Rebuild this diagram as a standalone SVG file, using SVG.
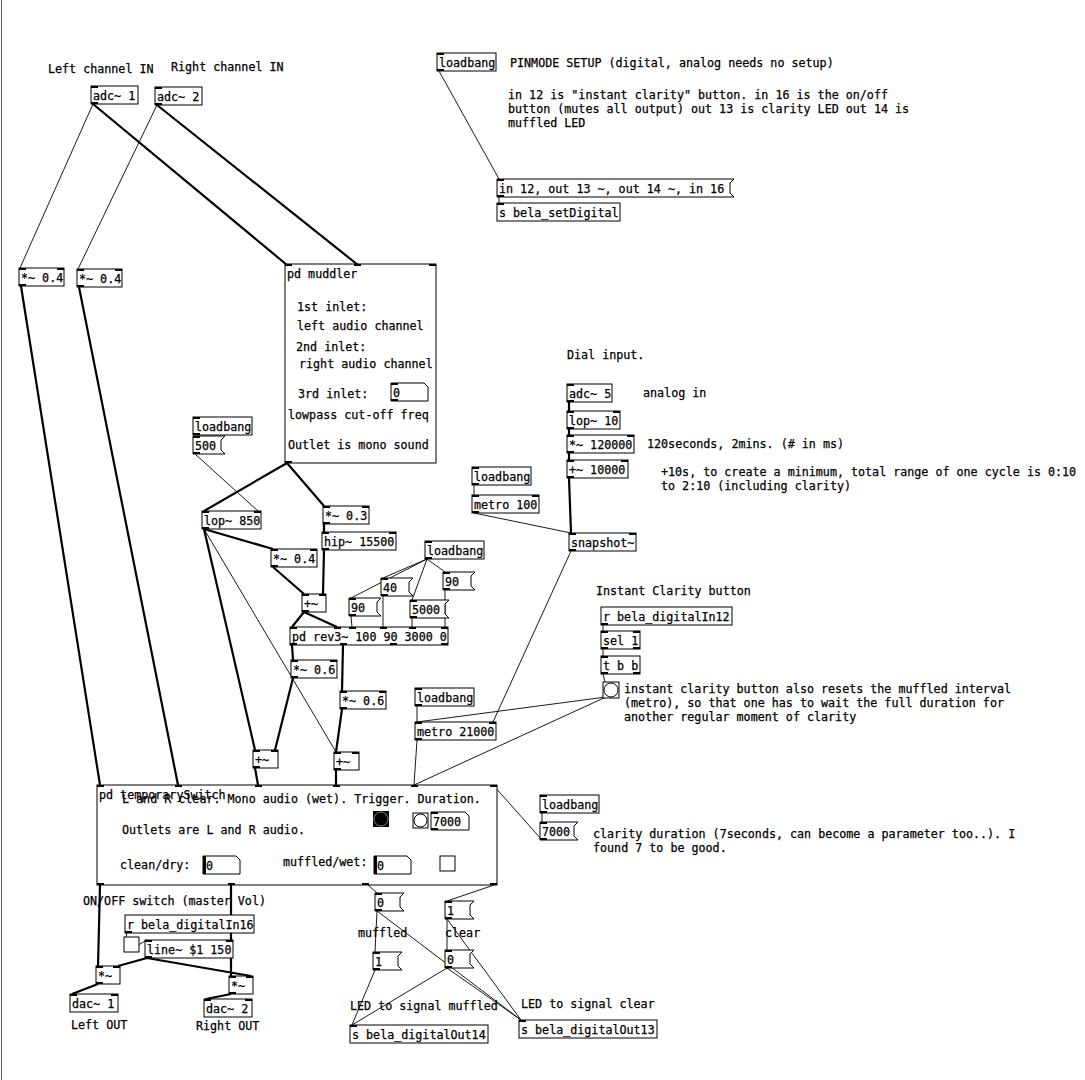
<svg xmlns="http://www.w3.org/2000/svg" width="1085" height="1080" viewBox="0 0 1085 1080">
<style>
text{font-family:"DejaVu Sans Mono","Liberation Mono",monospace;font-size:11.7px;fill:#000;stroke:#000;stroke-width:0.25}
.b{fill:#fff;stroke:#000;stroke-width:1}
.io{fill:#000}
.s{stroke:#000;stroke-width:2.2;fill:none}
.c{stroke:#000;stroke-width:0.9;fill:none}
</style>
<rect width="1085" height="1080" fill="#fff"/>
<line x1="1.5" y1="0" x2="1.5" y2="1080" stroke="#555" stroke-width="1"/>
<g id="connectors">
<path class="s" d="M93 104L287 265M157 105L358 265M21 286L100 785M79 287L178 785M287 463L204 511M287 463L324 506M204 529L273 549M204 529L255 750M324 524L324 532M324 550L323 594M273 567L304 594M304 612L292 627M304 612L337 627M292 645L293 660M343 645L342 691M293 678L275 750M342 709L336 752M255 768L258 785M336 770L336 785M569 402L569 411M569 429L569 435M569 453L569 460M569 478L571 533M100 885L98 966M231 885L231 976M147 958L118 966M147 958L251 976M98 984L72 994M231 994L206 999"/>
<path class="c" d="M93 104L20 268M157 105L78 269M195 454L258 511M204 529L336 752M427 559L445 572M427 559L383 578M427 559L351 598M427 559L412 600M351 616L352 627M383 596L383 627M412 618L412 627M445 590L445 627M417 706L417 722M417 740L414 785M571 551L493 722M606 697L417 722M606 697L414 785M603 625L603 631M603 649L603 656M603 674L605 682M474 485L474 495M474 513L571 533M494 786L542 840M542 813L542 822M439 71L499 179M499 197L499 203M368 885L377 893M494 885L447 901M377 911L375 952M377 911L521 1020M447 919L447 950M447 919L521 1020M375 970L352 1025M447 968L352 1025M447 968L521 1020M127 933L126 937M126 952L147 940"/>
</g>
<g id="comments">
<text x="48" y="73">Left channel IN</text>
<text x="171" y="71">Right channel IN</text>
<text x="510" y="67">PINMODE SETUP (digital, analog needs no setup)</text>
<text x="508" y="99">in 12 is "instant clarity" button. in 16 is the on/off</text>
<text x="508" y="113">button (mutes all output) out 13 is clarity LED out 14 is</text>
<text x="508" y="127">muffled LED</text>
<text x="567" y="359">Dial input.</text>
<text x="643" y="397">analog in</text>
<text x="647" y="448">120seconds, 2mins. (# in ms)</text>
<text x="661" y="476">+10s, to create a minimum, total range of one cycle is 0:10</text>
<text x="661" y="490">to 2:10 (including clarity)</text>
<text x="596" y="595">Instant Clarity button</text>
<text x="624" y="693">instant clarity button also resets the muffled interval</text>
<text x="624" y="707">(metro), so that one has to wait the full duration for</text>
<text x="624" y="721">another regular moment of clarity</text>
<text x="593" y="838">clarity duration (7seconds, can become a parameter too..). I</text>
<text x="593" y="852">found 7 to be good.</text>
<text x="83" y="905">ON/OFF switch (master Vol)</text>
<text x="358" y="937">muffled</text>
<text x="445" y="937">clear</text>
<text x="350" y="1010">LED to signal muffled</text>
<text x="521" y="1008">LED to signal clear</text>
<text x="71" y="1029">Left OUT</text>
<text x="196" y="1030">Right OUT</text>
</g>
<g id="adc1"><rect class="b" x="91" y="86" width="47" height="18"/><rect class="io" x="91" y="86" width="7" height="2"/><rect class="io" x="91" y="102" width="7" height="2"/><text x="93" y="100">adc~ 1</text></g>
<g id="adc2"><rect class="b" x="155" y="87" width="47" height="18"/><rect class="io" x="155" y="87" width="7" height="2"/><rect class="io" x="155" y="103" width="7" height="2"/><text x="157" y="101">adc~ 2</text></g>
<g id="loadbang1"><rect class="b" x="437" y="53" width="59" height="18"/><rect class="io" x="437" y="53" width="7" height="2"/><rect class="io" x="437" y="69" width="7" height="2"/><text x="439" y="67">loadbang</text></g>
<g id="pinmsg"><polygon class="b" points="497,179 734,179 730,183 730,193 734,197 497,197"/><rect class="io" x="497" y="179" width="7" height="2"/><rect class="io" x="497" y="195" width="7" height="2"/><text x="499" y="193">in 12, out 13 ~, out 14 ~, in 16</text></g>
<g id="setdigital"><rect class="b" x="497" y="203" width="123" height="18"/><rect class="io" x="497" y="203" width="7" height="2"/><text x="499" y="217">s bela_setDigital</text></g>
<g id="mul04a"><rect class="b" x="19" y="268" width="45" height="18"/><rect class="io" x="19" y="268" width="7" height="2"/><rect class="io" x="57" y="268" width="7" height="2"/><rect class="io" x="19" y="284" width="7" height="2"/><text x="21" y="282">*~ 0.4</text></g>
<g id="mul04b"><rect class="b" x="77" y="269" width="45" height="18"/><rect class="io" x="77" y="269" width="7" height="2"/><rect class="io" x="115" y="269" width="7" height="2"/><rect class="io" x="77" y="285" width="7" height="2"/><text x="79" y="283">*~ 0.4</text></g>
<g id="muddler"><rect class="b" x="285" y="264" width="151" height="199"/><rect class="io" x="285" y="264" width="7" height="2"/><rect class="io" x="354" y="264" width="7" height="2"/><rect class="io" x="429" y="264" width="7" height="2"/><rect class="io" x="285" y="461" width="7" height="2"/>
<text x="287" y="278">pd muddler</text><text x="297" y="311">1st inlet:</text><text x="297" y="330">left audio channel</text><text x="296" y="351">2nd inlet:</text><text x="299" y="368">right audio channel</text><text x="298" y="398">3rd inlet:</text>
<polygon class="b" points="391,383 424,383 428,387 428,401 391,401"/><rect class="io" x="391" y="383" width="7" height="2"/><rect class="io" x="391" y="399" width="7" height="2"/><text x="393" y="397">0</text>
<text x="288" y="419">lowpass cut-off freq</text><text x="288" y="449">Outlet is mono sound</text></g>
<g id="loadbang2"><rect class="b" x="193" y="417" width="59" height="18"/><rect class="io" x="193" y="417" width="7" height="2"/><rect class="io" x="193" y="433" width="7" height="2"/><text x="195" y="431">loadbang</text></g>
<g id="msg500"><polygon class="b" points="193,436 225,436 221,440 221,450 225,454 193,454"/><rect class="io" x="193" y="436" width="7" height="2"/><rect class="io" x="193" y="452" width="7" height="2"/><text x="195" y="450">500</text></g>
<g id="lop850"><rect class="b" x="202" y="511" width="59" height="18"/><rect class="io" x="202" y="511" width="7" height="2"/><rect class="io" x="254" y="511" width="7" height="2"/><rect class="io" x="202" y="527" width="7" height="2"/><text x="204" y="525">lop~ 850</text></g>
<g id="mul03"><rect class="b" x="323" y="506" width="46" height="18"/><rect class="io" x="323" y="506" width="7" height="2"/><rect class="io" x="362" y="506" width="7" height="2"/><rect class="io" x="323" y="522" width="7" height="2"/><text x="325" y="520">*~ 0.3</text></g>
<g id="hip"><rect class="b" x="322" y="532" width="74" height="18"/><rect class="io" x="322" y="532" width="7" height="2"/><rect class="io" x="389" y="532" width="7" height="2"/><rect class="io" x="322" y="548" width="7" height="2"/><text x="324" y="546">hip~ 15500</text></g>
<g id="mul04c"><rect class="b" x="271" y="549" width="46" height="18"/><rect class="io" x="271" y="549" width="7" height="2"/><rect class="io" x="310" y="549" width="7" height="2"/><rect class="io" x="271" y="565" width="7" height="2"/><text x="273" y="563">*~ 0.4</text></g>
<g id="loadbang3"><rect class="b" x="425" y="541" width="59" height="18"/><rect class="io" x="425" y="541" width="7" height="2"/><rect class="io" x="425" y="557" width="7" height="2"/><text x="427" y="555">loadbang</text></g>
<g id="msg90a"><polygon class="b" points="443,572 475,572 471,576 471,586 475,590 443,590"/><rect class="io" x="443" y="572" width="7" height="2"/><rect class="io" x="443" y="588" width="7" height="2"/><text x="445" y="586">90</text></g>
<g id="msg40"><polygon class="b" points="381,578 413,578 409,582 409,592 413,596 381,596"/><rect class="io" x="381" y="578" width="7" height="2"/><rect class="io" x="381" y="594" width="7" height="2"/><text x="383" y="592">40</text></g>
<g id="msg90b"><polygon class="b" points="349,598 381,598 377,602 377,612 381,616 349,616"/><rect class="io" x="349" y="598" width="7" height="2"/><rect class="io" x="349" y="614" width="7" height="2"/><text x="351" y="612">90</text></g>
<g id="msg5000"><polygon class="b" points="410,600 449,600 445,604 445,614 449,618 410,618"/><rect class="io" x="410" y="600" width="7" height="2"/><rect class="io" x="410" y="616" width="7" height="2"/><text x="412" y="614">5000</text></g>
<g id="add1"><rect class="b" x="302" y="594" width="24" height="18"/><rect class="io" x="302" y="594" width="7" height="2"/><rect class="io" x="319" y="594" width="7" height="2"/><rect class="io" x="302" y="610" width="7" height="2"/><text x="304" y="608">+~</text></g>
<g id="rev3"><rect class="b" x="290" y="627" width="158" height="18"/><rect class="io" x="290" y="627" width="7" height="2"/><rect class="io" x="334" y="627" width="7" height="2"/><rect class="io" x="349" y="627" width="7" height="2"/><rect class="io" x="380" y="627" width="7" height="2"/><rect class="io" x="409" y="627" width="7" height="2"/><rect class="io" x="441" y="627" width="7" height="2"/><rect class="io" x="290" y="643" width="7" height="2"/><rect class="io" x="340" y="643" width="7" height="2"/><rect class="io" x="390" y="643" width="7" height="2"/><rect class="io" x="441" y="643" width="7" height="2"/><text x="292" y="641">pd rev3~ 100 90 3000 0</text></g>
<g id="mul06a"><rect class="b" x="291" y="660" width="46" height="18"/><rect class="io" x="291" y="660" width="7" height="2"/><rect class="io" x="330" y="660" width="7" height="2"/><rect class="io" x="291" y="676" width="7" height="2"/><text x="293" y="674">*~ 0.6</text></g>
<g id="mul06b"><rect class="b" x="340" y="691" width="46" height="18"/><rect class="io" x="340" y="691" width="7" height="2"/><rect class="io" x="379" y="691" width="7" height="2"/><rect class="io" x="340" y="707" width="7" height="2"/><text x="342" y="705">*~ 0.6</text></g>
<g id="add2"><rect class="b" x="253" y="750" width="25" height="18"/><rect class="io" x="253" y="750" width="7" height="2"/><rect class="io" x="271" y="750" width="7" height="2"/><rect class="io" x="253" y="766" width="7" height="2"/><text x="255" y="764">+~</text></g>
<g id="add3"><rect class="b" x="334" y="752" width="25" height="18"/><rect class="io" x="334" y="752" width="7" height="2"/><rect class="io" x="352" y="752" width="7" height="2"/><rect class="io" x="334" y="768" width="7" height="2"/><text x="336" y="766">+~</text></g>
<g id="loadbang4"><rect class="b" x="415" y="688" width="59" height="18"/><rect class="io" x="415" y="688" width="7" height="2"/><rect class="io" x="415" y="704" width="7" height="2"/><text x="417" y="702">loadbang</text></g>
<g id="metro21000"><rect class="b" x="415" y="722" width="81" height="18"/><rect class="io" x="415" y="722" width="7" height="2"/><rect class="io" x="489" y="722" width="7" height="2"/><rect class="io" x="415" y="738" width="7" height="2"/><text x="417" y="736">metro 21000</text></g>
<g id="loadbang5"><rect class="b" x="472" y="467" width="59" height="18"/><rect class="io" x="472" y="467" width="7" height="2"/><rect class="io" x="472" y="483" width="7" height="2"/><text x="474" y="481">loadbang</text></g>
<g id="metro100"><rect class="b" x="472" y="495" width="67" height="18"/><rect class="io" x="472" y="495" width="7" height="2"/><rect class="io" x="532" y="495" width="7" height="2"/><rect class="io" x="472" y="511" width="7" height="2"/><text x="474" y="509">metro 100</text></g>
<g id="adc5"><rect class="b" x="567" y="384" width="45" height="18"/><rect class="io" x="567" y="384" width="7" height="2"/><rect class="io" x="567" y="400" width="7" height="2"/><text x="569" y="398">adc~ 5</text></g>
<g id="lop10"><rect class="b" x="567" y="411" width="53" height="18"/><rect class="io" x="567" y="411" width="7" height="2"/><rect class="io" x="613" y="411" width="7" height="2"/><rect class="io" x="567" y="427" width="7" height="2"/><text x="569" y="425">lop~ 10</text></g>
<g id="mul120000"><rect class="b" x="567" y="435" width="67" height="18"/><rect class="io" x="567" y="435" width="7" height="2"/><rect class="io" x="627" y="435" width="7" height="2"/><rect class="io" x="567" y="451" width="7" height="2"/><text x="569" y="449">*~ 120000</text></g>
<g id="add10000"><rect class="b" x="567" y="460" width="61" height="18"/><rect class="io" x="567" y="460" width="7" height="2"/><rect class="io" x="621" y="460" width="7" height="2"/><rect class="io" x="567" y="476" width="7" height="2"/><text x="569" y="474">+~ 10000</text></g>
<g id="snapshot"><rect class="b" x="569" y="533" width="67" height="18"/><rect class="io" x="569" y="533" width="7" height="2"/><rect class="io" x="629" y="533" width="7" height="2"/><rect class="io" x="569" y="549" width="7" height="2"/><text x="571" y="547">snapshot~</text></g>
<g id="rIn12"><rect class="b" x="601" y="607" width="131" height="18"/><rect class="io" x="601" y="623" width="7" height="2"/><text x="603" y="621">r bela_digitalIn12</text></g>
<g id="sel1"><rect class="b" x="601" y="631" width="39" height="18"/><rect class="io" x="601" y="631" width="7" height="2"/><rect class="io" x="633" y="631" width="7" height="2"/><rect class="io" x="601" y="647" width="7" height="2"/><rect class="io" x="633" y="647" width="7" height="2"/><text x="603" y="645">sel 1</text></g>
<g id="tbb"><rect class="b" x="601" y="656" width="39" height="18"/><rect class="io" x="601" y="656" width="7" height="2"/><rect class="io" x="601" y="672" width="7" height="2"/><rect class="io" x="633" y="672" width="7" height="2"/><text x="603" y="670">t b b</text></g>
<g id="bang1"><rect class="b" x="603" y="682" width="16" height="16"/><circle class="b" cx="611" cy="690" r="7"/></g>
<g id="tswitch"><rect class="b" x="97" y="785" width="400" height="100"/>
<rect class="io" x="97" y="785" width="7" height="2"/><rect class="io" x="175" y="785" width="7" height="2"/><rect class="io" x="255" y="785" width="7" height="2"/><rect class="io" x="333" y="785" width="7" height="2"/><rect class="io" x="411" y="785" width="7" height="2"/><rect class="io" x="490" y="785" width="7" height="2"/>
<rect class="io" x="97" y="883" width="7" height="2"/><rect class="io" x="228" y="883" width="7" height="2"/><rect class="io" x="362" y="883" width="7" height="2"/><rect class="io" x="490" y="883" width="7" height="2"/>
<text x="99" y="799">pd temporarySwitch</text><text x="122" y="803">L and R clear. Mono audio (wet). Trigger. Duration.</text><text x="122" y="834">Outlets are L and R audio.</text>
<rect x="373" y="811" width="16" height="16" fill="#000"/><circle cx="381" cy="819" r="7" fill="#000" stroke="#fff" stroke-width="0.5"/>
<rect class="b" x="413" y="813" width="15" height="15"/><circle class="b" cx="420.5" cy="820.5" r="6.5"/>
<polygon class="b" points="431,812 465,812 469,816 469,830 431,830"/><rect class="io" x="431" y="812" width="7" height="2"/><rect class="io" x="431" y="828" width="7" height="2"/><text x="433" y="826">7000</text>
<text x="120" y="869">clean/dry:</text><polygon class="b" points="203,856 236,856 240,860 240,874 203,874"/><rect class="io" x="203" y="856" width="3" height="18"/><text x="206" y="870">0</text>
<text x="283" y="866">muffled/wet:</text><polygon class="b" points="374,856 407,856 411,860 411,874 374,874"/><rect class="io" x="374" y="856" width="3" height="18"/><text x="377" y="870">0</text>
<rect class="b" x="440" y="856" width="15" height="15"/></g>
<g id="loadbang6"><rect class="b" x="540" y="795" width="59" height="18"/><rect class="io" x="540" y="795" width="7" height="2"/><rect class="io" x="540" y="811" width="7" height="2"/><text x="542" y="809">loadbang</text></g>
<g id="msg7000"><polygon class="b" points="540,822 578,822 574,826 574,836 578,840 540,840"/><rect class="io" x="540" y="822" width="7" height="2"/><rect class="io" x="540" y="838" width="7" height="2"/><text x="542" y="836">7000</text></g>
<g id="msg0a"><polygon class="b" points="375,893 404,893 400,897 400,907 404,911 375,911"/><rect class="io" x="375" y="893" width="7" height="2"/><rect class="io" x="375" y="909" width="7" height="2"/><text x="377" y="907">0</text></g>
<g id="msg1a"><polygon class="b" points="445,901 474,901 470,905 470,915 474,919 445,919"/><rect class="io" x="445" y="901" width="7" height="2"/><rect class="io" x="445" y="917" width="7" height="2"/><text x="447" y="915">1</text></g>
<g id="msg1b"><polygon class="b" points="373,952 402,952 398,956 398,966 402,970 373,970"/><rect class="io" x="373" y="952" width="7" height="2"/><rect class="io" x="373" y="968" width="7" height="2"/><text x="375" y="966">1</text></g>
<g id="msg0b"><polygon class="b" points="445,950 474,950 470,954 470,964 474,968 445,968"/><rect class="io" x="445" y="950" width="7" height="2"/><rect class="io" x="445" y="966" width="7" height="2"/><text x="447" y="964">0</text></g>
<g id="out14"><rect class="b" x="350" y="1025" width="138" height="18"/><rect class="io" x="350" y="1025" width="7" height="2"/><text x="352" y="1039">s bela_digitalOut14</text></g>
<g id="out13"><rect class="b" x="519" y="1020" width="138" height="18"/><rect class="io" x="519" y="1020" width="7" height="2"/><text x="521" y="1034">s bela_digitalOut13</text></g>
<g id="rIn16"><rect class="b" x="125" y="915" width="129" height="18"/><rect class="io" x="125" y="931" width="7" height="2"/><text x="127" y="929">r bela_digitalIn16</text></g>
<g id="toggle"><rect class="b" x="124" y="937" width="15" height="15"/></g>
<g id="line"><rect class="b" x="145" y="940" width="88" height="18"/><rect class="io" x="145" y="940" width="7" height="2"/><rect class="io" x="226" y="940" width="7" height="2"/><rect class="io" x="145" y="956" width="7" height="2"/><text x="147" y="954">line~ $1 150</text></g>
<g id="mulL"><rect class="b" x="96" y="966" width="24" height="18"/><rect class="io" x="96" y="966" width="7" height="2"/><rect class="io" x="113" y="966" width="7" height="2"/><rect class="io" x="96" y="982" width="7" height="2"/><text x="98" y="980">*~</text></g>
<g id="mulR"><rect class="b" x="229" y="976" width="24" height="18"/><rect class="io" x="229" y="976" width="7" height="2"/><rect class="io" x="246" y="976" width="7" height="2"/><rect class="io" x="229" y="992" width="7" height="2"/><text x="231" y="990">*~</text></g>
<g id="dac1"><rect class="b" x="70" y="994" width="48" height="18"/><rect class="io" x="70" y="994" width="7" height="2"/><rect class="io" x="111" y="994" width="7" height="2"/><text x="72" y="1008">dac~ 1</text></g>
<g id="dac2"><rect class="b" x="204" y="999" width="48" height="18"/><rect class="io" x="204" y="999" width="7" height="2"/><rect class="io" x="245" y="999" width="7" height="2"/><text x="206" y="1013">dac~ 2</text></g>
</svg>
